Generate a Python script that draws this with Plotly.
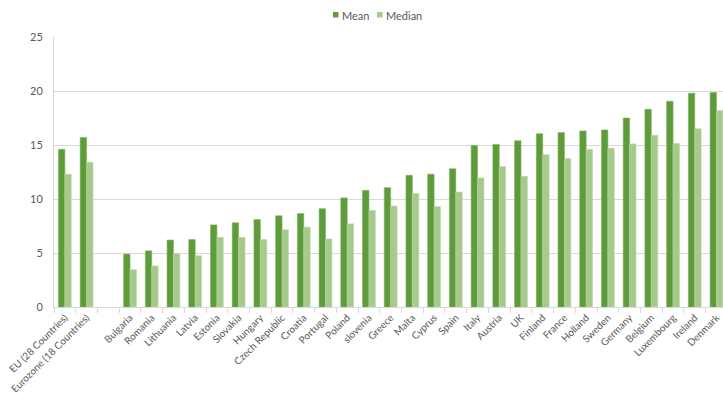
import plotly.graph_objects as go

# Categories (a blank slot separates the aggregates from the countries)
categories = [
    "EU (28 Countries)", "Eurozone (18 Countries)", " ",
    "Bulgaria", "Romania", "Lithuania", "Latvia", "Estonia", "Slovakia",
    "Hungary", "Czech Republic", "Croatia", "Portugal", "Poland", "slovenia",
    "Greece", "Malta", "Cyprus", "Spain", "Italy", "Austria", "UK", "Finland",
    "France", "Holland", "Sweden", "Germany", "Belgium", "Luxembourg",
    "Ireland", "Denmark",
]

mean_values = [
    14.6, 15.7, None,
    4.9, 5.2, 6.2, 6.25, 7.6, 7.8,
    8.1, 8.45, 8.65, 9.1, 10.1, 10.8,
    11.05, 12.2, 12.3, 12.8, 14.95, 15.05, 15.4, 16.05,
    16.15, 16.3, 16.4, 17.5, 18.3, 19.05,
    19.8, 19.85,
]

median_values = [
    12.3, 13.4, None,
    3.45, 3.8, 4.95, 4.75, 6.45, 6.45,
    6.25, 7.15, 7.4, 6.3, 7.7, 8.95,
    9.35, 10.5, 9.3, 10.65, 11.95, 13.0, 12.1, 14.1,
    13.75, 14.6, 14.7, 15.1, 15.9, 15.15,
    16.5, 18.2,
]

y_ticks = [0, 5, 10, 15, 20, 25]

FONT = "Lato, 'Open Sans', Arial, sans-serif"
TEXT_COLOR = "#595959"
GRID_COLOR = "#d9d9d9"
MEAN_COLOR = "#5e9b3a"
MEDIAN_COLOR = "#a5ca8c"

W, H = 723, 394
M_LEFT, M_TOP, M_BOTTOM = 54, 37, 87
plot_top, plot_bottom = M_TOP, H - M_BOTTOM


def paper_x(px):
    return (px - M_LEFT) / (W - M_LEFT)


def paper_y(py):
    return (plot_bottom - py) / (plot_bottom - plot_top)


fig = go.Figure()
fig.add_trace(go.Bar(
    name="Mean", x=categories, y=mean_values,
    marker=dict(color=MEAN_COLOR, line=dict(color="#7fb25c", width=0.6)),
))
fig.add_trace(go.Bar(
    name="Median", x=categories, y=median_values,
    marker=dict(color=MEDIAN_COLOR, line=dict(color="#bcd9a8", width=0.6)),
))

# Compact legend at the top: small coloured squares followed by the series names
legend_items = [("Mean", MEAN_COLOR, 333), ("Median", MEDIAN_COLOR, 377)]
for label, color, px in legend_items:
    fig.add_shape(
        type="rect", xref="paper", yref="paper",
        x0=paper_x(px), x1=paper_x(px + 5.5),
        y0=paper_y(17.5), y1=paper_y(12),
        line=dict(width=0), fillcolor=color,
    )
    fig.add_annotation(
        text=label, xref="paper", yref="paper",
        x=paper_x(px + 7), y=paper_y(15), xanchor="left", yanchor="middle",
        showarrow=False, font=dict(family=FONT, size=11, color=TEXT_COLOR),
    )

fig.update_layout(
    width=W, height=H,
    margin=dict(l=M_LEFT, r=0, t=M_TOP, b=M_BOTTOM),
    paper_bgcolor="white", plot_bgcolor="white",
    barmode="group", bargap=0.41, bargroupgap=0.0,
    font=dict(family=FONT, size=11, color=TEXT_COLOR),
    showlegend=False,
    xaxis=dict(
        type="category",
        range=[-0.5, 30.3],
        tickangle=-45,
        tickfont=dict(family=FONT, size=10, color=TEXT_COLOR),
        showgrid=False,
        showline=True, linecolor=GRID_COLOR, linewidth=1,
        ticks="outside", ticklen=5, tickcolor=GRID_COLOR, tickson="boundaries",
        automargin=False,
        fixedrange=True,
    ),
    yaxis=dict(
        range=[0, 25],
        tickvals=y_ticks,
        tickfont=dict(family=FONT, size=11, color=TEXT_COLOR),
        showgrid=True, gridcolor=GRID_COLOR, gridwidth=1,
        showline=True, linecolor=GRID_COLOR, linewidth=1,
        zeroline=False,
        ticks="", ticklabelstandoff=8,
        automargin=False,
        fixedrange=True,
    ),
)

fig.write_html("out.html")
